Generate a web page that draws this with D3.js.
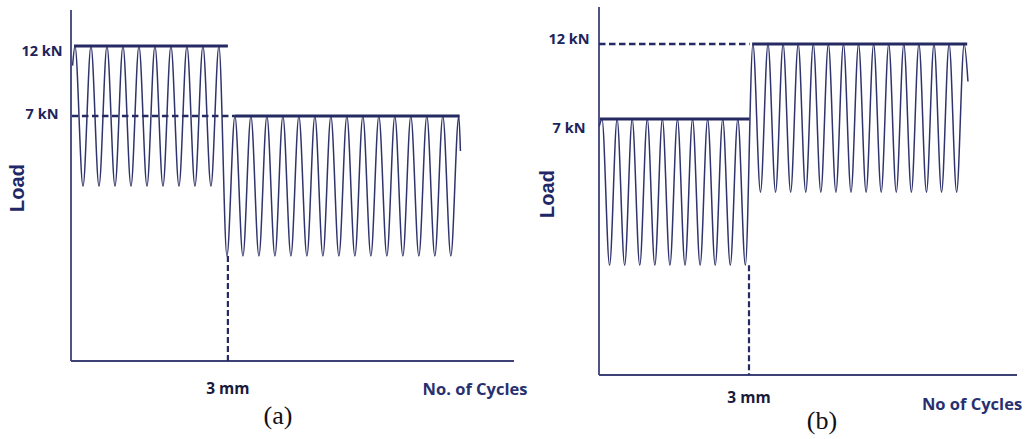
<!DOCTYPE html>
<html>
<head>
<meta charset="utf-8">
<script src="https://cdn.jsdelivr.net/npm/d3@7"></script>
<style>
  html, body { margin: 0; padding: 0; background: #ffffff; }
  svg { display: block; }
</style>
</head>
<body>
<svg id="chart" width="1027" height="439"></svg>
<script>
// Load levels (kN) labelled on the vertical axis
const tickLoads = [12, 7];
const tickLabels = ["12 kN", "7 kN"];

// Panel (a): 12 kN / 5 kN cycling, then 7 kN / 3 kN after 3 mm
// successive load extrema, one every half cycle
const extremaA = [12,5,12,5,12,5,12,5,12,5,12,5,12,5,12,5,12,5,12, 3,
                  7,3,7,3,7,3,7,3,7,3,7,3,7,3,7,3,7,3,7,3,7,3,7,3,7,3,7,3,7];
const firstPeakA = 0.25;              // cycle of the first peak
const startA = [0.1, 10.6];           // [cycle, load] where the trace begins
const endA = [24.35, 6.0];            // [cycle, load] where the trace ends
const mmCycleA = 9.81;                // cycle reached at 3 mm

// Panel (b): 7 kN / 3 kN cycling, then 12 kN / 5 kN after 3 mm
const extremaB = [7,3,7,3,7,3,7,3,7,3,7,3,7,3,7,3,7,3,7, 3,
                  12,5,12,5,12,5,12,5,12,5,12,5,12,5,12,5,12,5,12,5,12,5,12,5,12,5,12,5,12];
const firstPeakB = 0.2;
const startB = [0.02, 6.8];
const endB = [24.45, 9.5];
const mmCycleB = 9.94;

const cycleMax = 27.7;
const loadTop = 14.5;

// Reference levels drawn over each trace: [load, fromCycle, toCycle, dashed]
const guidesA = [[12, 0.19, 9.81, false], [7, 0.06, 10.25, true], [7, 10.25, 24.3, false]];
const guidesB = [[12, 0.0, 9.98, true], [7, 0.06, 9.98, false], [12, 10.15, 24.4, false]];

const axisColor = "#3d4178";
const waveColor = "#30346c";
const levelColor = "#262a62";
const textColor = "#20245c";

const svg = d3.select("#chart");

const panels = [
  {
    extrema: extremaA, firstPeak: firstPeakA, start: startA, end: endA, mm: mmCycleA, guides: guidesA,
    x: [71, 514], y: [361, 116, 46, 10],
    tickX: 42, tickDy: [4, -3],
    loadLabel: [17, 188],
    mmLabelY: 388, cyclesLabel: "No. of Cycles", cyclesX: 475, cyclesY: 388,
    tag: "(a)", tagX: 278, tagY: 424
  },
  {
    extrema: extremaB, firstPeak: firstPeakB, start: startB, end: endB, mm: mmCycleB, guides: guidesB,
    x: [599, 1017], y: [375, 119, 44, 7],
    tickX: 569, tickDy: [-6, 8],
    loadLabel: [547, 194],
    mmLabelY: 397, cyclesLabel: "No of Cycles", cyclesX: 972, cyclesY: 403,
    tag: "(b)", tagX: 822, tagY: 429
  }
];

panels.forEach(p => {
  const x = d3.scaleLinear().domain([0, cycleMax]).range(p.x);
  const y = d3.scaleLinear().domain([0, 7, 12, loadTop]).range(p.y);
  const g = svg.append("g");

  // axes
  g.append("line")
    .attr("x1", x(0)).attr("x2", x(0))
    .attr("y1", y(loadTop)).attr("y2", y(0))
    .attr("stroke", axisColor).attr("stroke-width", 1.8);
  g.append("line")
    .attr("x1", x(0)).attr("x2", x(cycleMax))
    .attr("y1", y(0)).attr("y2", y(0))
    .attr("stroke", axisColor).attr("stroke-width", 1.8);

  // load trace
  const pts = [p.start]
    .concat(p.extrema.map((v, i) => [p.firstPeak + i * 0.5, v]))
    .concat([p.end]);
  const line = d3.line()
    .x(d => x(d[0]))
    .y(d => y(d[1]))
    .curve(d3.curveMonotoneX);
  g.append("path")
    .attr("d", line(pts))
    .attr("fill", "none")
    .attr("stroke", waveColor)
    .attr("stroke-width", 1.5);

  // reference levels
  p.guides.forEach(([load, c0, c1, dashed]) => {
    g.append("line")
      .attr("x1", x(c0)).attr("x2", x(c1))
      .attr("y1", y(load)).attr("y2", y(load))
      .attr("stroke", levelColor)
      .attr("stroke-width", dashed ? 2.6 : 3)
      .attr("stroke-dasharray", dashed ? "6.5,3.5" : null);
  });

  // 3 mm marker
  g.append("line")
    .attr("x1", x(p.mm)).attr("x2", x(p.mm))
    .attr("y1", y(3)).attr("y2", y(0))
    .attr("stroke", levelColor).attr("stroke-width", 2.2)
    .attr("stroke-dasharray", "6,3");

  // tick labels
  tickLoads.forEach((v, i) => {
    g.append("text")
      .attr("x", p.tickX).attr("y", y(v) + p.tickDy[i])
      .attr("text-anchor", "middle").attr("dominant-baseline", "central")
      .attr("font-family", "'Open Sans', sans-serif").attr("font-weight", 700)
      .attr("font-size", 14.5).attr("fill", textColor)
      .text(tickLabels[i]);
  });

  g.append("text")
    .attr("transform", `translate(${p.loadLabel[0]},${p.loadLabel[1]}) rotate(-90)`)
    .attr("text-anchor", "middle").attr("dominant-baseline", "central")
    .attr("font-family", "'Liberation Sans', Arial, sans-serif").attr("font-weight", 700)
    .attr("font-size", 20).attr("fill", "#1e2866")
    .text("Load");

  g.append("text")
    .attr("x", x(p.mm)).attr("y", p.mmLabelY)
    .attr("text-anchor", "middle").attr("dominant-baseline", "central")
    .attr("font-family", "'Open Sans', sans-serif").attr("font-weight", 700)
    .attr("font-size", 15.5).attr("fill", "#1a1a3a")
    .text("3 mm");

  g.append("text")
    .attr("x", p.cyclesX).attr("y", p.cyclesY)
    .attr("text-anchor", "middle").attr("dominant-baseline", "central")
    .attr("font-family", "'Open Sans', sans-serif").attr("font-weight", 700)
    .attr("font-size", 16.5).attr("fill", "#283070")
    .text(p.cyclesLabel);

  g.append("text")
    .attr("x", p.tagX).attr("y", p.tagY)
    .attr("text-anchor", "middle")
    .attr("font-family", "'Liberation Serif', 'Times New Roman', serif")
    .attr("font-size", 26).attr("fill", "#111111")
    .text(p.tag);
});
</script>
</body>
</html>
